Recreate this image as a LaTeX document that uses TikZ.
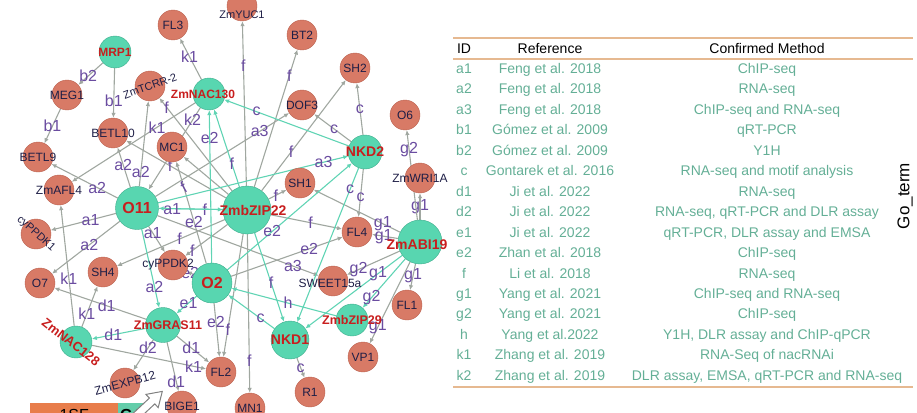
\documentclass[tikz,border=0pt]{standalone}
\usepackage{fontspec}
\setmainfont{Liberation Sans}
\usepackage{tikz}
\usetikzlibrary{arrows.meta, backgrounds}
\definecolor{salmon}{RGB}{216,122,102}
\definecolor{salmonline}{RGB}{186,98,80}
\definecolor{tealfill}{RGB}{88,214,176}
\definecolor{tealline}{RGB}{62,172,140}
\definecolor{edgegray}{RGB}{160,167,160}
\definecolor{edgeteal}{RGB}{96,212,180}
\definecolor{labpurple}{RGB}{106,76,160}
\definecolor{labred}{RGB}{200,30,30}
\definecolor{labnavy}{RGB}{30,30,70}
\definecolor{tabteal}{RGB}{100,175,150}
\definecolor{tabline}{RGB}{230,185,145}
\definecolor{boxorange}{RGB}{232,125,75}
\definecolor{boxteal}{RGB}{100,205,170}

\begin{document}
\begin{tikzpicture}[x=1pt, y=-1pt,
		snode/.style={circle, draw=salmonline, fill=salmon, minimum size=30pt, inner sep=0pt},
		tnode/.style={circle, draw=tealline, fill=tealfill, inner sep=0pt},
		slab/.style={text=labnavy, font=\fontsize{#1}{#1}\selectfont},
		slab/.default=12,
		tlab/.style={text=labred, font=\fontsize{#1}{#1}\selectfont\bfseries},
		tlab/.default=13,
		gedge/.style={draw=edgegray, line width=1.1pt, -{Latex[length=5pt, width=4.5pt]}},
		tedge/.style={draw=edgeteal, line width=1.1pt, -{Latex[length=5pt, width=4.5pt]}},
		elab/.style={text=labpurple, font=\fontsize{16}{16}\selectfont, inner sep=0.5pt},
		hdr/.style={font=\fontsize{14}{14}\selectfont, text height=10pt, text depth=0pt},
		trow/.style={hdr, text=tabteal}]
		\useasboundingbox (0,0) rectangle (917,412);
		
		% target genes
		\node [snode, label={[slab]center:FL3}] (FL3) at (173,25) {};
		\node [snode, label={[slab=11, yshift=-9pt]center:ZmYUC1}] (YUC1) at (242,6) {};
		\node [snode, label={[slab]center:BT2}] (BT2) at (302,35) {};
		\node [snode, label={[slab]center:MEG1}] (MEG1) at (67,95) {};
		\node [snode, label={[slab=11, rotate=20]center:ZmTCRR-2}] (TCRR) at (150,86) {};
		\node [snode, label={[slab]center:SH2}] (SH2) at (355,68) {};
		\node [snode, label={[slab]center:DOF3}] (DOF3) at (302,105) {};
		\node [snode, label={[slab]center:O6}] (O6) at (405,115) {};
		\node [snode, label={[slab]center:BETL10}] (BETL10) at (113,133) {};
		\node [snode, label={[slab]center:MC1}] (MC1) at (172,147) {};
		\node [snode, label={[slab]center:BETL9}] (BETL9) at (38,157) {};
		\node [snode, label={[slab]center:ZmAFL4}] (AFL4) at (59,190) {};
		\node [snode, label={[slab]center:SH1}] (SH1) at (300,183) {};
		\node [snode, label={[slab]center:ZmWRI1A}] (WRI1A) at (420,178) {};
		\node [snode, label={[slab=11, rotate=-42]center:cyPPDK1}] (PPDK1) at (36,234) {};
		\node [snode, label={[slab]center:FL4}] (FL4) at (357,232) {};
		\node [snode, label={[slab, xshift=-5pt]center:cyPPDK2}] (PPDK2) at (173,265) {};
		\node [snode, label={[slab]center:SH4}] (SH4) at (103,272) {};
		\node [snode, label={[slab]center:O7}] (O7) at (40,283) {};
		\node [snode, label={[slab, xshift=-3pt, yshift=-2pt]center:SWEET15a}] (SWEET) at (333,281) {};
		\node [snode, label={[slab]center:FL1}] (FL1) at (407,305) {};
		\node [snode, label={[slab]center:VP1}] (VP1) at (363,357) {};
		\node [snode, label={[slab]center:FL2}] (FL2) at (221,372) {};
		\node [snode, label={[slab]center:R1}] (R1) at (310,392) {};
		\node [snode, label={[slab, rotate=15]center:ZmEXPB12}] (EXPB12) at (125,383) {};
		\node [snode, label={[slab]center:BIGE1}] (BIGE1) at (182,406) {};
		\node [snode, label={[slab]center:MN1}] (MN1) at (250,408) {};
		
		% regulators
		\node [tnode, minimum size=32pt, label={[tlab=12]center:MRP1}] (MRP1) at (115,52) {};
		\node [tnode, minimum size=32pt, label={[tlab=12, xshift=-6pt]center:ZmNAC130}] (NAC130) at (209,94) {};
		\node [tnode, minimum size=34pt, label={[tlab=14]center:NKD2}] (NKD2) at (365,152) {};
		\node [tnode, minimum size=43pt, label={[tlab=16]center:O11}] (O11) at (137,208) {};
		\node [tnode, minimum size=48pt, label={[tlab=14, xshift=6pt]center:ZmbZIP22}] (bZIP22) at (247,210) {};
		\node [tnode, minimum size=44pt, label={[tlab=14, xshift=-3pt, yshift=-3pt]center:ZmABI19}] (ABI19) at (420,242) {};
		\node [tnode, minimum size=40pt, label={[tlab=16]center:O2}] (O2) at (212,283) {};
		\node [tnode, minimum size=32pt, label={[tlab=12.5]center:ZmbZIP29}] (bZIP29) at (352,320) {};
		\node [tnode, minimum size=35pt, label={[tlab=12.5, xshift=5pt]center:ZmGRAS11}] (GRAS11) at (163,325) {};
		\node [tnode, minimum size=38pt, label={[tlab=14]center:NKD1}] (NKD1) at (290,340) {};
		\node [tnode, minimum size=32pt, label={[tlab=13, xshift=-5pt, rotate=-38]center:ZmNAC128}] (NAC128) at (76,342) {};
		
		\begin{scope}[on background layer]
			\foreach \src/\dst/\lbl/\ps in {MRP1/MEG1/b2/0.6, MRP1/BETL10/b1/0.65, MEG1/BETL9/b1/0.5,
				NAC130/FL3/k1/0.55, NAC130/AFL4/k1/0.31, NAC130/O11/k2/0.15,
				bZIP22/YUC1/f/0.73, bZIP22/BT2/f/0.81, bZIP22/SH2/f/0.35, bZIP22/SH1/f/0.4,
				bZIP22/FL4/f/0.56, bZIP22/MN1/f/0.8, bZIP22/FL2/f/0.78, bZIP22/TCRR/f/0.9,
				bZIP22/BETL10/f/0.56, bZIP22/SH4/f/0.42, bZIP22/PPDK2/f/0.83,
				O11/BETL10/a2/0.56, O11/TCRR/a2/0.17, O11/BETL9/a2/0.31, O11/PPDK1/a1/0.39,
				O11/O7/a2/0.45, O11/PPDK2/a1/0.25, O11/DOF3/a3/0.78, O11/SWEET/a3/0.84,
				O2/MC1/e2/0.41, O2/PPDK2/e2/0.5, O2/FL2/e2/0.35, O2/FL4/e2/0.7,
				NKD2/DOF3/c/0.46, NKD2/SH2/c/0.49, NKD2/FL4/c/0.58, NKD1/R1/c/0.5,
				ABI19/WRI1A/g1/0.5, ABI19/O6/g2/0.78, ABI19/SH1/g1/0.2, ABI19/FL4/g1/0.55,
				ABI19/SWEET/g2/0.78, ABI19/FL1/g1/0.45, ABI19/VP1/g1/0.8,
				GRAS11/O7/d1/0.43, GRAS11/EXPB12/d2/0.27, GRAS11/FL2/d1/0.45, GRAS11/BIGE1/d1/0.8,
				NAC128/AFL4/k1/0.39, NAC128/SH4/k1/0.32, NAC128/FL2/k1/0.89}{
				\draw [gedge] (\src) -- node [elab, pos=\ps] {\lbl} (\dst);
			}
			\draw [gedge] (bZIP22) -- node [elab, pos=0.6, xshift=-18pt, yshift=-16pt, rotate=30] {f} (MC1);
			
			\foreach \src/\dst/\lbl/\ps in {O2/NAC130/e2/0.82, bZIP22/NAC130/f/0.3, NKD2/NAC130/c/0.74,
				bZIP22/NKD1/f/0.56, bZIP22/O11/f/0.28, O11/bZIP22/a1/0.21, O11/GRAS11/a2/0.73,
				O11/NKD2/a3/0.87, O2/GRAS11/e1/0.4, O2/NKD2/e2/0.36, NKD1/O2/c/0.3,
				bZIP29/O2/h/0.46, NKD2/NKD1/c/0.14, ABI19/NKD1/g1/0.25, ABI19/bZIP29/g2/0.79,
				GRAS11/NAC128/d1/0.6}{
				\draw [tedge] (\src) -- node [elab, pos=\ps] {\lbl} (\dst);
			}
		\end{scope}
		
		% reference table
		\draw [tabline, line width=1.2pt] (453,38) -- (913,38);
		\draw [tabline, line width=1.2pt] (453,59) -- (913,59);
		\draw [tabline, line width=1.2pt] (453,387) -- (913,387);
		\node [hdr] (hid) at (464,48) {ID};
		\node [hdr] (href) at (550,48) {Reference};
		\node [hdr] (hmeth) at (767,48) {Confirmed Method};
		\foreach \id/\rf/\mt [count=\i] in {a1/Feng et al. 2018/ChIP-seq, a2/Feng et al. 2018/RNA-seq,
			a3/Feng et al. 2018/ChIP-seq and RNA-seq, b1/Gómez et al. 2009/qRT-PCR,
			b2/Gómez et al. 2009/Y1H, c/Gontarek et al. 2016/RNA-seq and motif analysis,
			d1/Ji et al. 2022/RNA-seq, d2/Ji et al. 2022/{RNA-seq, qRT-PCR and DLR assay},
			e1/Ji et al. 2022/{qRT-PCR, DLR assay and EMSA}, e2/Zhan et al. 2018/ChIP-seq,
			f/Li et al. 2018/RNA-seq, g1/Yang et al. 2021/ChIP-seq and RNA-seq,
			g2/Yang et al. 2021/ChIP-seq, h/Yang et al.2022/{Y1H, DLR assay and ChIP-qPCR},
			k1/Zhang et al. 2019/RNA-Seq of nacRNAi,
			k2/Zhang et al. 2019/{DLR assay, EMSA, qRT-PCR and RNA-seq}}{
			\node [trow] (id\i) at (464,{68.3+20.47*(\i-1)}) {\id};
			\node [trow] (rf\i) at (550,{68.3+20.47*(\i-1)}) {\rf};
			\node [trow] (mt\i) at (767,{68.3+20.47*(\i-1)}) {\mt};
		}
		\node [rotate=90, font=\fontsize{17}{17}\selectfont] (goterm) at (905,196) {Go\_term};
		
		% cut-off legend at the bottom
		\node [fill=boxorange, minimum width=88pt, minimum height=24pt, anchor=north west, inner sep=0pt, font=\fontsize{16}{16}\selectfont] (sfbox) at (30,403) {1SF};
		\node [fill=boxteal, minimum width=28pt, minimum height=24pt, anchor=north west, inner sep=0pt, font=\fontsize{16}{16}\selectfont\bfseries] (gabox) at (118,403) {GA};
		\draw [gray, fill=white, line width=1pt] (133.3,413.1) -- (149.4,398.1) -- (145.9,394.4) -- (162.3,391.4) -- (158.2,407.6) -- (154.8,403.9) -- (138.7,418.9) -- cycle;
	\end{tikzpicture}
\end{document}
